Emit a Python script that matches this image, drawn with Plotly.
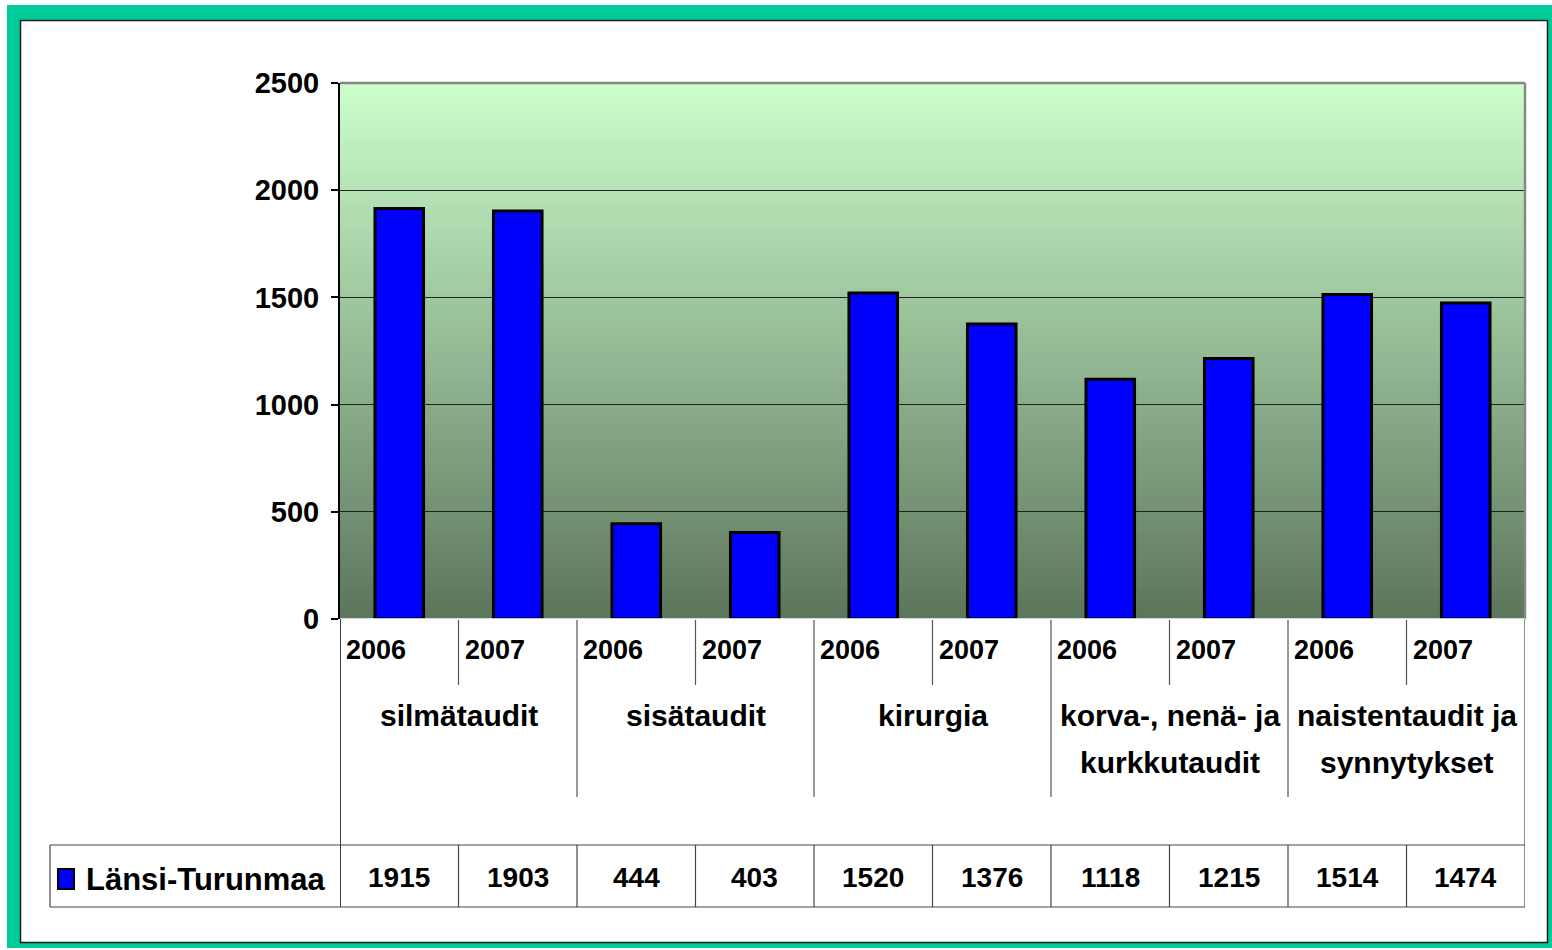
import plotly.graph_objects as go

# ---- data ----
years = ["2006", "2007", "2006", "2007", "2006", "2007", "2006", "2007", "2006", "2007"]
groups = [["silmätaudit"], ["sisätaudit"], ["kirurgia"],
          ["korva-, nenä- ja", "kurkkutaudit"], ["naistentaudit ja", "synnytykset"]]
values = [1915, 1903, 444, 403, 1520, 1376, 1118, 1215, 1514, 1474]
series_name = "Länsi-Turunmaa"
y_ticks = [0, 500, 1000, 1500, 2000, 2500]

W, H = 1552, 950
L, R, T, B = 340, 1525, 83, 619  # plot area in pixels
FONT = "Liberation Sans, Arial, sans-serif"


def X(px):
    return (px - L) / (R - L)


def Y(py):
    return (B - py) / (B - T)


xs = list(range(len(values)))

fig = go.Figure()
fig.add_trace(go.Bar(
    x=xs, y=values, width=0.41,
    marker=dict(color="#0000FF", line=dict(color="black", width=3)),
    name=series_name, showlegend=False, hoverinfo="y",
))

shapes = []
# outer teal frame and inner white panel
shapes.append(dict(type="rect", xref="paper", yref="paper", x0=X(7), x1=X(1552), y0=Y(948), y1=Y(5),
                   fillcolor="#00CC99", line=dict(width=0), layer="below"))
shapes.append(dict(type="rect", xref="paper", yref="paper", x0=X(20.5), x1=X(1547.5), y0=Y(942.5), y1=Y(20.5),
                   fillcolor="white", line=dict(color="#1a1a1a", width=1.5), layer="below"))

# vertical gradient background of the plot area
top = (0xCC, 0xFF, 0xCC)
bot = (0x5C, 0x75, 0x5C)
N = 120
for k in range(N):
    f = (k + 0.5) / N
    c = tuple(round(bot[i] + (top[i] - bot[i]) * f) for i in range(3))
    shapes.append(dict(type="rect", xref="paper", yref="paper", x0=0, x1=1,
                       y0=k / N, y1=(k + 1) / N + 0.002,
                       fillcolor="rgb(%d,%d,%d)" % c, line=dict(width=0), layer="below"))

# plot area border: gray top/right
shapes.append(dict(type="line", xref="paper", yref="paper", x0=0, x1=1, y0=1, y1=1,
                   line=dict(color="#888888", width=2.5)))
shapes.append(dict(type="line", xref="paper", yref="paper", x0=1, x1=1, y0=0, y1=1,
                   line=dict(color="#888888", width=2.5)))
shapes.append(dict(type="line", xref="paper", yref="paper", x0=0, x1=1, y0=0, y1=0,
                   line=dict(color="white", width=1.5)))

# category axis separators
n = len(values)
for i in range(1, n):
    bottom = 797 if i % 2 == 0 else 685
    shapes.append(dict(type="line", xref="x", yref="paper", x0=i - 0.5, x1=i - 0.5,
                       y0=Y(bottom), y1=Y(620), line=dict(color="#555555", width=1.2)))
# left vertical line of category area + table
shapes.append(dict(type="line", xref="x", yref="paper", x0=-0.5, x1=-0.5, y0=Y(907), y1=Y(619),
                   line=dict(color="black", width=1.5)))
# right vertical edge
shapes.append(dict(type="line", xref="x", yref="paper", x0=n - 0.5, x1=n - 0.5, y0=Y(907), y1=Y(619),
                   line=dict(color="#444444", width=1.2)))
# data table row
for yy in (845, 907):
    shapes.append(dict(type="line", xref="paper", yref="paper", x0=X(50), x1=1, y0=Y(yy), y1=Y(yy),
                       line=dict(color="#444444", width=1.2)))
shapes.append(dict(type="line", xref="paper", yref="paper", x0=X(50), x1=X(50), y0=Y(907), y1=Y(845),
                   line=dict(color="#444444", width=1.2)))
for i in range(1, n):
    shapes.append(dict(type="line", xref="x", yref="paper", x0=i - 0.5, x1=i - 0.5,
                       y0=Y(907), y1=Y(845), line=dict(color="#444444", width=1.2)))
# legend key
shapes.append(dict(type="rect", xref="paper", yref="paper", x0=X(58), x1=X(74), y0=Y(889), y1=Y(869),
                   fillcolor="#0000FF", line=dict(color="black", width=2)))

annotations = []
for i, yr in enumerate(years):
    annotations.append(dict(x=i - 0.5, xref="x", y=Y(650), yref="paper", text="<b>%s</b>" % yr,
                            xanchor="left", yanchor="middle", xshift=4, showarrow=False,
                            font=dict(family=FONT, size=27, color="black")))
for g, lines in enumerate(groups):
    for j, line in enumerate(lines):
        annotations.append(dict(x=2 * g + 0.5, xref="x", y=Y(715 + 47 * j), yref="paper",
                                text="<b>%s</b>" % line, xanchor="center", yanchor="middle",
                                showarrow=False, font=dict(family=FONT, size=30, color="black")))
for i, v in enumerate(values):
    annotations.append(dict(x=i, xref="x", y=Y(877), yref="paper", text="<b>%d</b>" % v,
                            xanchor="center", yanchor="middle", showarrow=False,
                            font=dict(family=FONT, size=28, color="black")))
annotations.append(dict(x=X(84), xref="paper", y=Y(879), yref="paper", text="<b>%s</b>" % series_name,
                        xanchor="left", yanchor="middle", showarrow=False,
                        font=dict(family=FONT, size=31, color="black")))

fig.update_layout(
    width=W, height=H, autosize=False,
    margin=dict(l=L, r=W - R, t=T, b=H - B, pad=0),
    paper_bgcolor="white", plot_bgcolor="rgba(0,0,0,0)",
    shapes=shapes, annotations=annotations, showlegend=False,
    bargap=0.59,
)
fig.update_xaxes(range=[-0.5, n - 0.5], showticklabels=False, showgrid=False, zeroline=False,
                 showline=False, ticks="", fixedrange=True)
fig.update_yaxes(range=[0, 2500], tickvals=y_ticks, ticktext=[str(t) for t in y_ticks],
                 showgrid=True, gridcolor="#222222", gridwidth=1.3, zeroline=False,
                 showline=True, linecolor="black", linewidth=2,
                 ticks="outside", ticklen=7, tickcolor="black", tickwidth=1.5,
                 ticklabelstandoff=6,
                 tickfont=dict(family=FONT, size=29, color="black", weight="bold"),
                 fixedrange=True)

fig.write_html("out.html", config={"displayModeBar": False},
               post_script="document.body.style.margin='0';document.body.style.overflow='hidden';")
